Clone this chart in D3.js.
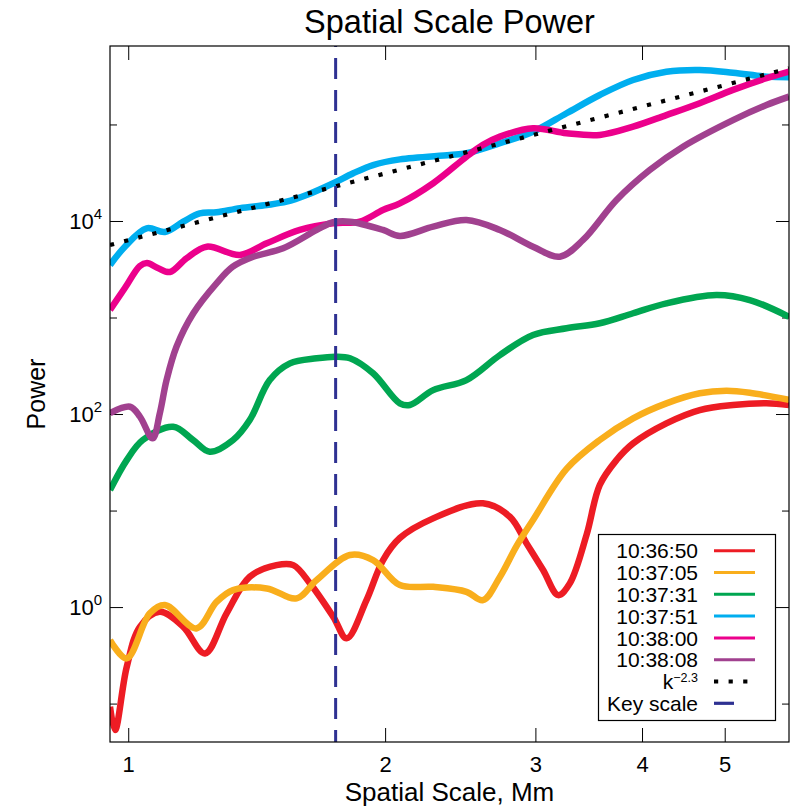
<!DOCTYPE html>
<html>
<head>
<meta charset="utf-8">
<script src="https://cdn.jsdelivr.net/npm/d3@7"></script>
<style>
  html, body { margin: 0; padding: 0; background: #fff; }
  svg { display: block; font-family: "Liberation Sans", Arial, Helvetica, sans-serif; }
</style>
</head>
<body>
<svg id="chart" width="798" height="807"></svg>
<script>
// Power spectra against spatial scale (Mm) for six frames.
const seriesLabels = ["10:36:50", "10:37:05", "10:37:31", "10:37:51", "10:38:00", "10:38:08"];
const seriesColors = ["#ed1c24", "#f9ae1c", "#00a651", "#00aeef", "#ec008c", "#a1418f"];

const scale_103650 = [0.952, 0.965, 0.996, 1.032, 1.089, 1.160, 1.230, 1.304, 1.388, 1.492, 1.561, 1.633, 1.739, 1.803, 1.902, 1.989, 2.081, 2.277, 2.604, 2.800, 2.929, 3.063, 3.190, 3.292, 3.444, 3.569, 3.734, 3.905, 4.272, 4.674, 5.113, 5.596, 5.947];
const power_103650 = [0.0927, 0.0531, 0.240, 0.625, 0.893, 0.625, 0.331, 0.861, 2.06, 2.72, 2.72, 1.76, 0.792, 0.474, 1.18, 3.07, 5.19, 8.30, 11.9, 8.63, 4.57, 2.42, 1.33, 1.76, 5.6, 18.4, 33.4, 49.7, 80.1, 110, 124, 129, 124];

const scale_103705 = [0.952, 0.996, 1.060, 1.104, 1.202, 1.269, 1.327, 1.453, 1.575, 1.663, 1.819, 1.936, 2.081, 2.277, 2.491, 2.604, 2.726, 2.851, 2.981, 3.263, 3.569, 3.905, 4.272, 4.674, 5.023, 5.349, 5.947];
const power_103705 = [0.455, 0.294, 0.861, 1.05, 0.601, 1.13, 1.50, 1.56, 1.23, 1.91, 3.46, 3.07, 1.69, 1.62, 1.44, 1.18, 2.05, 4.28, 7.98, 27.0, 53.8, 90.2, 129, 164, 174, 166, 140];

const scale_103731 = [0.952, 0.996, 1.040, 1.129, 1.191, 1.246, 1.327, 1.388, 1.465, 1.547, 1.663, 1.751, 1.819, 1.936, 2.081, 2.138, 2.277, 2.491, 2.726, 2.981, 3.263, 3.569, 3.905, 4.272, 4.889, 5.349, 5.947];
const power_103731 = [16.3, 33.3, 53.8, 73.9, 53.8, 40.6, 53.8, 86.7, 225, 335, 378, 393, 378, 264, 129, 124, 177, 225, 408, 659, 773, 871, 1107, 1403, 1710, 1518, 1018];

const scale_103751 = [0.952, 0.991, 1.051, 1.104, 1.160, 1.213, 1.269, 1.352, 1.453, 1.533, 1.618, 1.739, 1.835, 1.936, 2.081, 2.381, 2.491, 2.726, 2.981, 3.263, 3.569, 3.905, 4.272, 4.674, 5.113, 5.596, 5.947];
const power_103751 = [3500, 5420, 8400, 7690, 9840, 12000, 12300, 13600, 14650, 15840, 18570, 24600, 31200, 38000, 43500, 48300, 50300, 63900, 84100, 130600, 202000, 289000, 352000, 367000, 344000, 313000, 308000];

const scale_103800 = [0.952, 0.991, 1.032, 1.052, 1.083, 1.119, 1.170, 1.236, 1.352, 1.453, 1.589, 1.738, 1.868, 1.988, 2.081, 2.277, 2.491, 2.604, 2.726, 2.981, 3.263, 3.569, 3.905, 4.272, 4.674, 5.113, 5.596, 5.947];
const power_103800 = [1200, 2020, 3420, 3670, 3260, 2960, 4100, 5420, 4450, 5870, 8070, 9460, 9840, 13000, 15200, 24600, 46300, 61400, 74800, 91400, 81100, 77900, 94900, 125000, 166000, 228000, 301000, 352000];

const scale_103808 = [0.952, 1.005, 1.032, 1.068, 1.089, 1.109, 1.139, 1.192, 1.269, 1.326, 1.401, 1.519, 1.663, 1.738, 1.819, 1.989, 2.081, 2.277, 2.491, 2.726, 2.981, 3.204, 3.412, 3.734, 4.084, 4.468, 5.113, 5.596, 5.947];
const power_103808 = [102, 119, 94, 56, 102, 225, 498, 1107, 2260, 3360, 4260, 5210, 8070, 9700, 9840, 8070, 7000, 8730, 10240, 8070, 5420, 4270, 6360, 16500, 33700, 58900, 111000, 159000, 194000];

// k^-2.3 reference line (straight on log-log axes), given by its end points
const refScale = [0.952, 5.947];
const refPower = [5640, 381000];

// key scale marker (Mm)
const keyScale = 1.75;

// axis ticks
const xTicks = [1, 2, 3, 4, 5];
const yMajorTicks = [1, 100, 10000];
const yMinorTicks = [0.1, 10, 1000, 100000];

const seriesScales = [scale_103650, scale_103705, scale_103731, scale_103751, scale_103800, scale_103808];
const seriesPowers = [power_103650, power_103705, power_103731, power_103751, power_103800, power_103808];

const svg = d3.select("#chart");
const plotLeft = 110, plotRight = 789, plotTop = 46, plotBottom = 742;

const x = d3.scaleLog().domain([0.952, 5.947]).range([plotLeft, plotRight]);
const y = d3.scaleLog().domain([0.04, 650000]).range([plotBottom, plotTop]);

svg.append("defs").append("clipPath").attr("id", "plotClip")
  .append("rect").attr("x", plotLeft).attr("y", plotTop)
  .attr("width", plotRight - plotLeft).attr("height", plotBottom - plotTop);

// title
svg.append("text").attr("x", (plotLeft + plotRight) / 2).attr("y", 33)
  .attr("text-anchor", "middle").attr("font-size", 32.5).attr("fill", "#000")
  .text("Spatial Scale Power");

// axes: inward ticks on all four sides
const tickStyle = g => {
  g.select(".domain").remove();
  g.selectAll(".tick line").attr("stroke", "#000").attr("stroke-width", 1);
};

svg.append("g").attr("transform", `translate(0,${plotBottom})`)
  .call(d3.axisBottom(x).tickValues(xTicks).tickSize(-14).tickSizeOuter(0).tickPadding(14).tickFormat(d3.format("d")))
  .call(tickStyle)
  .call(g => g.selectAll(".tick text").attr("font-size", 22).attr("fill", "#000"));

svg.append("g").attr("transform", `translate(0,${plotTop})`)
  .call(d3.axisTop(x).tickValues(xTicks).tickSize(-14).tickSizeOuter(0).tickFormat(""))
  .call(tickStyle);

svg.append("g").attr("transform", `translate(${plotLeft},0)`)
  .call(d3.axisLeft(y).tickValues(yMajorTicks).tickSize(-13).tickSizeOuter(0).tickPadding(8))
  .call(tickStyle)
  .call(g => g.selectAll(".tick text").attr("font-size", 22).attr("fill", "#000")
    .each(function(d) {
      const t = d3.select(this);
      t.text(null);
      t.append("tspan").text("10");
      t.append("tspan").attr("font-size", 15).attr("dy", "-0.62em").text(Math.round(Math.log10(d)));
    }));

svg.append("g").attr("transform", `translate(${plotLeft},0)`)
  .call(d3.axisLeft(y).tickValues(yMinorTicks).tickSize(-7).tickSizeOuter(0).tickFormat(""))
  .call(tickStyle);

svg.append("g").attr("transform", `translate(${plotRight},0)`)
  .call(d3.axisRight(y).tickValues(yMajorTicks).tickSize(-13).tickSizeOuter(0).tickFormat(""))
  .call(tickStyle);

svg.append("g").attr("transform", `translate(${plotRight},0)`)
  .call(d3.axisRight(y).tickValues(yMinorTicks).tickSize(-7).tickSizeOuter(0).tickFormat(""))
  .call(tickStyle);

svg.selectAll("g .tick text").attr("font-family", "Liberation Sans, Arial, Helvetica, sans-serif");

// axis titles
svg.append("text").attr("x", (plotLeft + plotRight) / 2).attr("y", 801)
  .attr("text-anchor", "middle").attr("font-size", 26).attr("fill", "#000")
  .text("Spatial Scale, Mm");

svg.append("text").attr("transform", `translate(45,${(plotTop + plotBottom) / 2}) rotate(-90)`)
  .attr("text-anchor", "middle").attr("font-size", 25).attr("fill", "#000")
  .text("Power");

// spectra
const plot = svg.append("g").attr("clip-path", "url(#plotClip)");
const line = d3.line()
  .x(d => x(d[0]))
  .y(d => y(d[1]))
  .curve(d3.curveCatmullRom.alpha(0.5));

seriesScales.forEach((sc, i) => {
  const pts = sc.map((s, j) => [s, seriesPowers[i][j]]);
  plot.append("path").datum(pts)
    .attr("d", line)
    .attr("fill", "none")
    .attr("stroke", seriesColors[i])
    .attr("stroke-width", 6.5)
    .attr("stroke-linejoin", "round");
});

// k^-2.3 dotted line
plot.append("path")
  .datum(refScale.map((s, j) => [s, refPower[j]]))
  .attr("d", d3.line().x(d => x(d[0])).y(d => y(d[1])))
  .attr("fill", "none").attr("stroke", "#000").attr("stroke-width", 4.2)
  .attr("stroke-dasharray", "4.2,10.4");

// key scale dashed marker
plot.append("line")
  .attr("x1", x(keyScale)).attr("x2", x(keyScale))
  .attr("y1", plotTop).attr("y2", plotBottom)
  .attr("stroke", "#2e3192").attr("stroke-width", 3)
  .attr("stroke-dasharray", "21,11").attr("stroke-dashoffset", 20);

// frame
svg.append("rect").attr("x", plotLeft).attr("y", plotTop)
  .attr("width", plotRight - plotLeft).attr("height", plotBottom - plotTop)
  .attr("fill", "none").attr("stroke", "#000").attr("stroke-width", 1.2);

// legend
const lg = svg.append("g");
lg.append("rect").attr("x", 598.5).attr("y", 534.5).attr("width", 177).attr("height", 186)
  .attr("fill", "#fff").attr("stroke", "#000").attr("stroke-width", 1.2);

const rowY = i => 550.7 + i * 21.8;
const textX = 698, lineX1 = 714, lineX2 = 755;

seriesLabels.forEach((lab, i) => {
  lg.append("text").attr("x", textX).attr("y", rowY(i) + 7.6)
    .attr("text-anchor", "end").attr("font-size", 21).attr("fill", "#000").text(lab);
  lg.append("line").attr("x1", lineX1).attr("x2", lineX2).attr("y1", rowY(i)).attr("y2", rowY(i))
    .attr("stroke", seriesColors[i]).attr("stroke-width", 3);
});

const kText = lg.append("text").attr("x", textX).attr("y", rowY(6) + 7.4)
  .attr("text-anchor", "end").attr("font-size", 21).attr("fill", "#000");
kText.append("tspan").text("k");
kText.append("tspan").attr("font-size", 12.5).attr("dy", -7).text("\u22122.3");
lg.append("line").attr("x1", lineX1).attr("x2", lineX2).attr("y1", rowY(6)).attr("y2", rowY(6))
  .attr("stroke", "#000").attr("stroke-width", 4.2).attr("stroke-dasharray", "4.2,10.4");

lg.append("text").attr("x", textX).attr("y", rowY(7) + 7.6)
  .attr("text-anchor", "end").attr("font-size", 21).attr("fill", "#000").text("Key scale");
lg.append("line").attr("x1", lineX1).attr("x2", 734).attr("y1", rowY(7)).attr("y2", rowY(7))
  .attr("stroke", "#2e3192").attr("stroke-width", 3.2);
</script>
</body>
</html>
